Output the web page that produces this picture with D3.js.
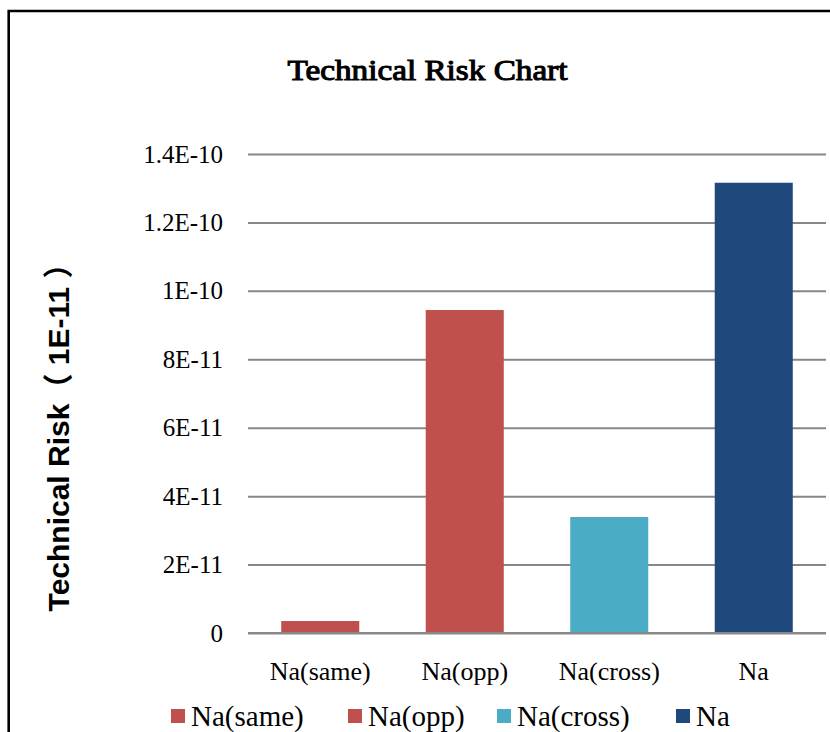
<!DOCTYPE html>
<html>
<head>
<meta charset="utf-8">
<script src="https://cdn.jsdelivr.net/npm/d3@7"></script>
<style>
  html, body { margin: 0; padding: 0; background: #fff; }
  svg { display: block; }
</style>
</head>
<body>
<svg id="chart" width="830" height="732"></svg>
<script>
// Chart data
const categories = ["Na(same)", "Na(opp)", "Na(cross)", "Na"];
const values = [3.5e-12, 9.44e-11, 3.39e-11, 1.316e-10];
const colors = ["#C0504D", "#C0504D", "#4BACC6", "#1F497D"];
const tickValues = [0, 2e-11, 4e-11, 6e-11, 8e-11, 1e-10, 1.2e-10, 1.4e-10];
const tickLabels = ["0", "2E-11", "4E-11", "6E-11", "8E-11", "1E-10", "1.2E-10", "1.4E-10"];
const titleText = "Technical Risk Chart";
const yTitle = "Technical Risk（ 1E-11 ）";

const svg = d3.select("#chart");
const serif = "'Times New Roman', 'Liberation Serif', 'DejaVu Serif', serif";
const sans = "Arial, 'Liberation Sans', 'Noto Sans CJK SC', sans-serif";

// Outer frame (top and left edges visible)
svg.append("path")
  .attr("d", "M8.7,732 V11 H830")
  .attr("fill", "none")
  .attr("stroke", "#000")
  .attr("stroke-width", 2.6);

// Scales
const x = d3.scaleBand().domain(categories).range([248, 826]).paddingInner(0.46).paddingOuter(0.23);
const y = d3.scaleLinear().domain([0, 1.4e-10]).range([633, 154]);

// Title (serif, emboldened with a thin stroke)
svg.append("text")
  .attr("x", 427.5).attr("y", 80)
  .attr("text-anchor", "middle")
  .attr("font-family", serif)
  .attr("font-size", 30)
  .attr("fill", "#000")
  .attr("stroke", "#000")
  .attr("stroke-width", 1.1)
  .attr("textLength", 280)
  .attr("lengthAdjust", "spacingAndGlyphs")
  .text(titleText);

// Gridlines
const yAxis = d3.axisLeft(y)
  .tickValues(tickValues)
  .tickFormat((d, i) => tickLabels[i])
  .tickSize(-(826 - 248))
  .tickPadding(25);

const gy = svg.append("g")
  .attr("transform", "translate(248,0)")
  .call(yAxis);
gy.select(".domain").remove();
gy.selectAll(".tick line")
  .attr("stroke", "#878787")
  .attr("stroke-width", 2);
gy.selectAll(".tick text")
  .attr("font-family", serif)
  .attr("font-size", 25)
  .attr("fill", "#000");

// Bars
svg.append("g")
  .selectAll("rect")
  .data(values)
  .join("rect")
  .attr("x", (d, i) => x(categories[i]))
  .attr("width", x.bandwidth())
  .attr("y", d => y(d))
  .attr("height", d => y(0) - y(d))
  .attr("fill", (d, i) => colors[i]);

// Baseline
svg.append("line")
  .attr("x1", 248).attr("x2", 826)
  .attr("y1", y(0)).attr("y2", y(0))
  .attr("stroke", "#878787")
  .attr("stroke-width", 2);

// Category labels
const xAxis = d3.axisBottom(x).tickSize(0).tickPadding(29);
const gx = svg.append("g")
  .attr("transform", `translate(0,${y(0)})`)
  .call(xAxis);
gx.select(".domain").remove();
gx.selectAll(".tick text")
  .attr("font-family", serif)
  .attr("font-size", 26)
  .attr("fill", "#000");

// Y-axis title
svg.append("text")
  .attr("transform", "translate(69,430) rotate(-90)")
  .attr("text-anchor", "middle")
  .attr("font-family", sans)
  .attr("font-weight", "bold")
  .attr("font-size", 30)
  .text(yTitle);

// Legend
const legendX = [171, 348, 497, 676];
const legend = svg.append("g");
categories.forEach((c, i) => {
  const g = legend.append("g").attr("transform", `translate(${legendX[i]},716)`);
  g.append("rect")
    .attr("x", 0).attr("y", -7)
    .attr("width", 14).attr("height", 14)
    .attr("fill", colors[i]);
  g.append("text")
    .attr("x", 20).attr("y", 10)
    .attr("font-family", serif)
    .attr("font-size", 29)
    .attr("fill", "#000")
    .text(c);
});
</script>
</body>
</html>
